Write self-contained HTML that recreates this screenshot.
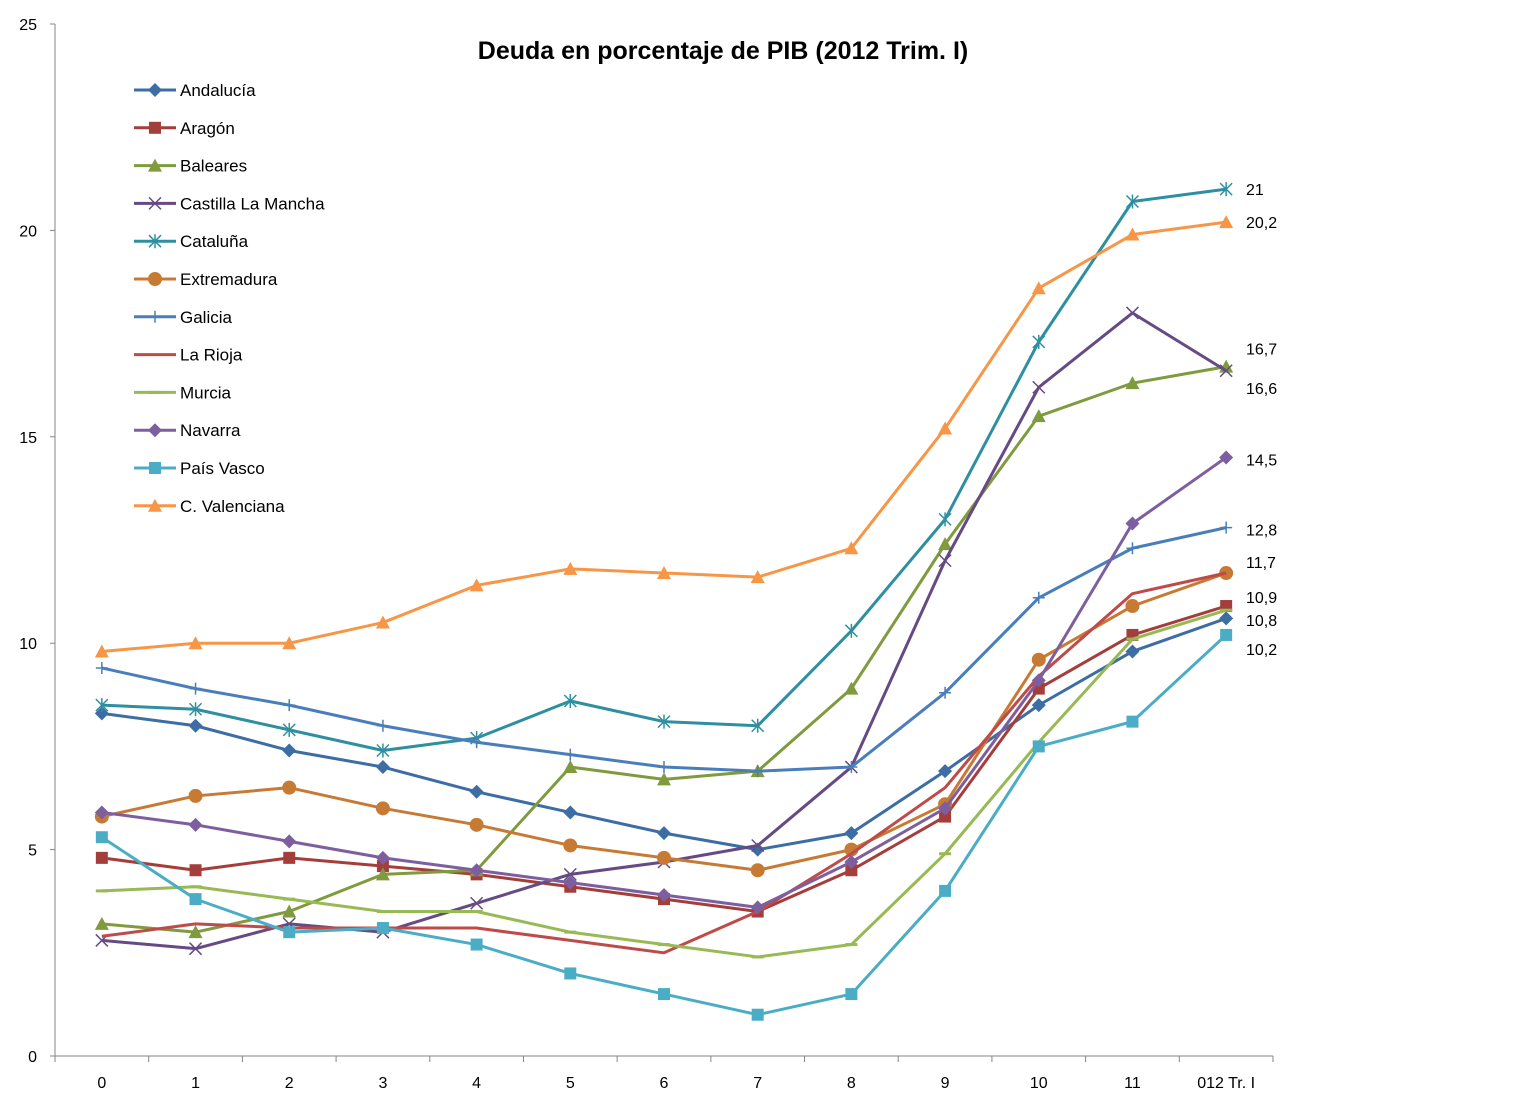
<!DOCTYPE html>
<html><head><meta charset="utf-8"><style>
body{margin:0;background:#fff;}
svg{display:block;font-family:"Liberation Sans",sans-serif;}
</style></head><body>
<svg id="chart" width="1530" height="1109">
<text x="723" y="59" text-anchor="middle" font-size="25" font-weight="bold">Deuda en porcentaje de PIB (2012 Trim. I)</text>
<g id="axes"></g><g id="series"></g><g id="legend"></g><g id="endlabels"></g>
</svg>
<script>
const categories=["0","1","2","3","4","5","6","7","8","9","10","11","012 Tr. I"];
const yTicks=[0,5,10,15,20,25];
const names=["Andalucía","Aragón","Baleares","Castilla La Mancha","Cataluña","Extremadura","Galicia","La Rioja","Murcia","Navarra","País Vasco","C. Valenciana"];
const andalucia=[8.3,8.0,7.4,7.0,6.4,5.9,5.4,5.0,5.4,6.9,8.5,9.8,10.6];
const aragon=[4.8,4.5,4.8,4.6,4.4,4.1,3.8,3.5,4.5,5.8,8.9,10.2,10.9];
const baleares=[3.2,3.0,3.5,4.4,4.5,7.0,6.7,6.9,8.9,12.4,15.5,16.3,16.7];
const clm=[2.8,2.6,3.2,3.0,3.7,4.4,4.7,5.1,7.0,12.0,16.2,18.0,16.6];
const cataluna=[8.5,8.4,7.9,7.4,7.7,8.6,8.1,8.0,10.3,13.0,17.3,20.7,21.0];
const extremadura=[5.8,6.3,6.5,6.0,5.6,5.1,4.8,4.5,5.0,6.1,9.6,10.9,11.7];
const galicia=[9.4,8.9,8.5,8.0,7.6,7.3,7.0,6.9,7.0,8.8,11.1,12.3,12.8];
const larioja=[2.9,3.2,3.1,3.1,3.1,2.8,2.5,3.5,4.9,6.5,9.2,11.2,11.7];
const murcia=[4.0,4.1,3.8,3.5,3.5,3.0,2.7,2.4,2.7,4.9,7.6,10.1,10.8];
const navarra=[5.9,5.6,5.2,4.8,4.5,4.2,3.9,3.6,4.7,6.0,9.1,12.9,14.5];
const paisvasco=[5.3,3.8,3.0,3.1,2.7,2.0,1.5,1.0,1.5,4.0,7.5,8.1,10.2];
const valenciana=[9.8,10.0,10.0,10.5,11.4,11.8,11.7,11.6,12.3,15.2,18.6,19.9,20.2];
const endLabels=["21","20,2","16,7","16,6","14,5","12,8","11,7","10,9","10,8","10,2"];
const endLabelValues=[21,20.2,16.7,16.6,14.5,12.8,11.7,10.9,10.8,10.2];
const endLabelShift=[0,0,-18,17,2,2,-11,-9,10,14];

const series=[andalucia,aragon,baleares,clm,cataluna,extremadura,galicia,larioja,murcia,navarra,paisvasco,valenciana];
const colors=["#3c6da4","#a33e3b","#7f9b3e","#654a84","#2e8fa0","#c77a34","#4a7ebb","#be4b48","#98b954","#7d5fa0","#4bacc6","#f79646"];
const markers=["diamond","square","triangle","x","star","circle","plus","none","dash","diamond","square","triangle"];
const NS="http://www.w3.org/2000/svg";
const L=55,R=1273,T=24,B=1056,YMAX=25;
const cw=(R-L)/categories.length;
const xS=i=>L+cw*(i+0.5);
const yS=v=>B-(v/YMAX)*(B-T);
function el(tag,attrs,parent){const e=document.createElementNS(NS,tag);for(const k in attrs)e.setAttribute(k,attrs[k]);parent.appendChild(e);return e;}
const axes=document.getElementById('axes');
let a=el('line',{x1:L,y1:T,x2:L,y2:B,stroke:'#868686'},axes);

a=el('line',{x1:L,y1:B,x2:R,y2:B,stroke:'#868686'},axes);

yTicks.forEach(v=>{
  el('line',{x1:L-5,y1:yS(v),x2:L,y2:yS(v),stroke:'#868686'},axes);
  const t=el('text',{x:37,y:yS(v)+6,'text-anchor':'end','font-size':16},axes);t.textContent=v;
  
});
for(let i=0;i<=categories.length;i++)el('line',{x1:L+cw*i,y1:B,x2:L+cw*i,y2:B+6,stroke:'#868686'},axes);
categories.forEach((c,i)=>{
  const t=el('text',{x:xS(i),y:1088,'text-anchor':'middle','font-size':16},axes);t.textContent=c;
  
});
function marker(type,x,y,col,g){
  const s=6;
  if(type==='diamond')el('polygon',{points:`${x},${y-s-1} ${x+s+1},${y} ${x},${y+s+1} ${x-s-1},${y}`,fill:col},g);
  else if(type==='square')el('rect',{x:x-s,y:y-s,width:2*s,height:2*s,fill:col},g);
  else if(type==='triangle')el('polygon',{points:`${x},${y-s-1} ${x+s+1},${y+s} ${x-s-1},${y+s}`,fill:col},g);
  else if(type==='circle')el('circle',{cx:x,cy:y,r:s+1,fill:col},g);
  else if(type==='x'){el('path',{d:`M${x-s} ${y-s}L${x+s} ${y+s}M${x-s} ${y+s}L${x+s} ${y-s}`,stroke:col,'stroke-width':1.5},g);}
  else if(type==='star'){el('path',{d:`M${x-s} ${y-s}L${x+s} ${y+s}M${x-s} ${y+s}L${x+s} ${y-s}M${x} ${y-s-1}L${x} ${y+s+1}`,stroke:col,'stroke-width':1.5},g);}
  else if(type==='plus'){el('path',{d:`M${x-s} ${y}L${x+s} ${y}M${x} ${y-s}L${x} ${y+s}`,stroke:col,'stroke-width':1.5},g);}
  else if(type==='dash'){el('path',{d:`M${x-s} ${y}L${x+s} ${y}`,stroke:col,'stroke-width':3},g);}
}
const sg=document.getElementById('series');
series.forEach((d,k)=>{
  const g=el('g',{},sg);
  
  
  const p=el('polyline',{points:d.map((v,i)=>xS(i)+','+yS(v)).join(' '),fill:'none',stroke:colors[k],'stroke-width':3,'stroke-linejoin':'round'},g);
  
  
  d.forEach((v,i)=>marker(markers[k],xS(i),yS(v),colors[k],g));
});
const lg=document.getElementById('legend');
names.forEach((n,k)=>{
  const y=90+k*37.8;
  const g=el('g',{},lg);
  
  
  el('line',{x1:134,y1:y,x2:176,y2:y,stroke:colors[k],'stroke-width':3},g);
  marker(markers[k],155,y,colors[k],g);
  const t=el('text',{x:180,y:y+6,'font-size':17},g);t.textContent=n;
});
const eg=document.getElementById('endlabels');
endLabels.forEach((s,i)=>{
  const t=el('text',{x:1246,y:yS(endLabelValues[i])+6+endLabelShift[i],'font-size':16},eg);t.textContent=s;
  
});
</script>
</body></html>
